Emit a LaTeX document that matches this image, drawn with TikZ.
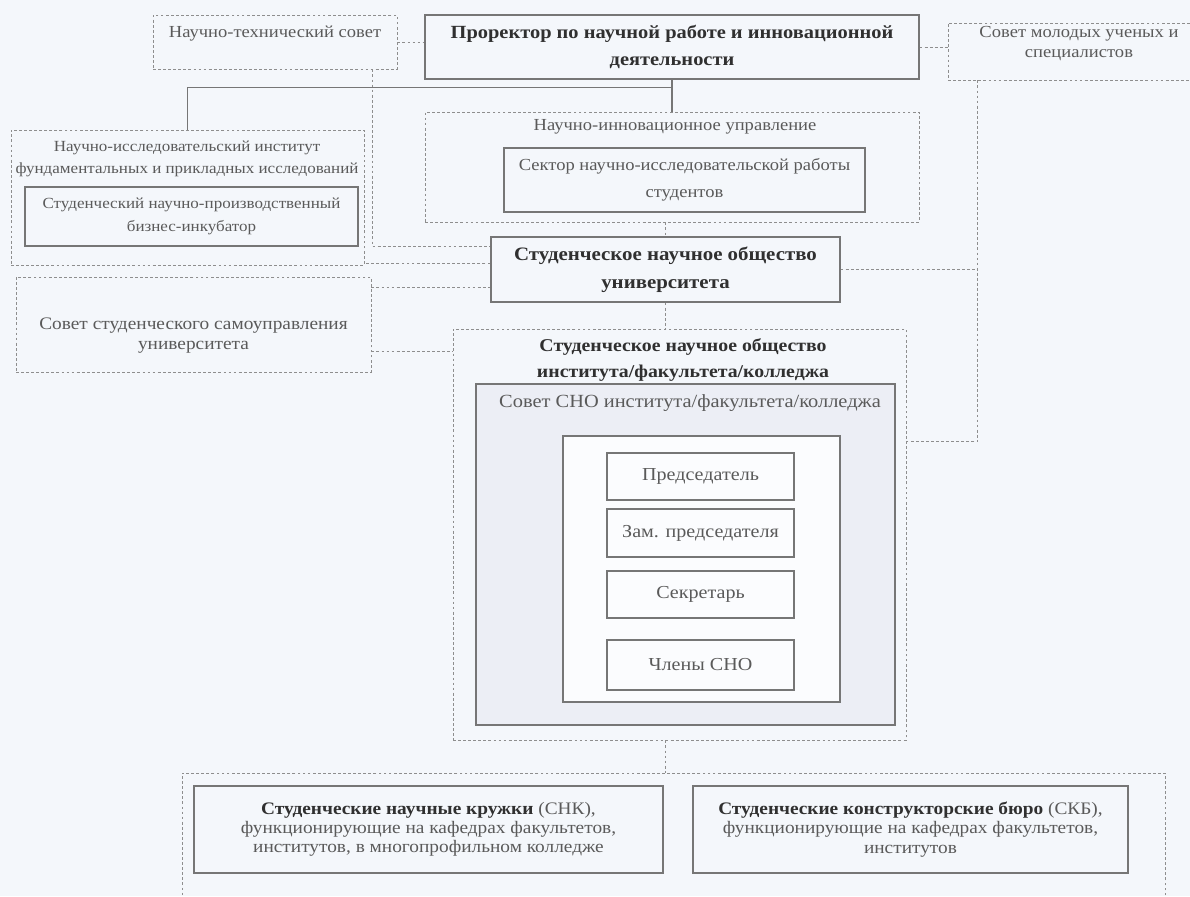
\documentclass[tikz,border=0pt]{standalone}
\usepackage{fontspec}
\setmainfont{Liberation Serif}[FakeStretch=1.1]
\usetikzlibrary{calc}

\definecolor{bgpaper}{HTML}{F4F7FB}
\definecolor{linegray}{HTML}{767676}
\definecolor{dashgray}{HTML}{8E8E8E}
\definecolor{txtgray}{HTML}{5A5A5A}
\definecolor{txtdark}{HTML}{303030}
\definecolor{councilfill}{HTML}{ECEEF5}
\definecolor{whitebox}{HTML}{FBFCFE}

\newcommand{\fs}[2]{\fontsize{#1}{#2}\selectfont}

\tikzset{
  wh/.style 2 args={minimum width=#1*0.025cm, minimum height=#2*0.025cm},
  sbox/.style={draw=linegray, line width=0.9pt, inner sep=0pt, align=center, text=txtgray},
  dbox/.style={draw=dashgray, line width=0.6pt, dash pattern=on 2pt off 1.6pt, inner sep=0pt, align=center, text=txtgray},
  dlink/.style={dashgray, line width=0.6pt, dash pattern=on 2pt off 1.6pt},
  slink/.style={linegray, line width=0.9pt},
}

\begin{document}
\begin{tikzpicture}[x=0.025cm, y=-0.025cm]
  \fill[bgpaper] (0,0) rectangle (1190,896);
  \useasboundingbox (0,0) rectangle (1190,896);

  % top row
  \node[dbox, wh={244}{54}, font=\fs{12}{14}] (ntc) at (275,42) {Научно-технический совет\\\mbox{}};
  \node[sbox, wh={494}{64}, text=txtdark, font=\bfseries\fs{13.2}{19}] (pror) at (672,47)
    {Проректор по научной работе и инновационной\\деятельности};
  \node[dbox, wh={262}{57}, font=\fs{12}{14}] (smu) at (1079,51.5)
    {Совет молодых ученых и\\специалистов\\\mbox{}};

  % institute and management
  \node[dbox, wh={353}{135}] (nii) at (187.5,197.5) {};
  \node[text=txtgray, align=center, font=\fs{11}{15.5}] (nii-t) at (187,159)
    {Научно-исследовательский институт\\фундаментальных и прикладных исследований};
  \node[sbox, wh={333}{59}, font=\fs{11}{16}] (inc) at (191.5,216.5)
    {Студенческий научно-производственный\\бизнес-инкубатор};

  \node[dbox, wh={494}{110}] (niu) at (672,167) {};
  \node[text=txtgray, font=\fs{12}{14}] (niu-t) at (675,127) {Научно-инновационное управление};
  \node[sbox, wh={361}{64}, font=\fs{12}{19}] (sect) at (684.5,180)
    {Сектор научно-исследовательской работы\\студентов};

  \node[sbox, wh={349}{65}, text=txtdark, font=\bfseries\fs{13.5}{20}] (snou) at (665.5,269.5)
    {Студенческое научное общество\\университета};
  \node[dbox, wh={355}{95}, font=\fs{12.5}{14}] (ssu) at (193.5,324.5)
    {\strut\\Совет студенческого самоуправления\\университета};

  % faculty society
  \node[dbox, wh={453}{411}] (snoi) at (679.5,534.5) {};
  \node[text=txtdark, align=center, font=\bfseries\fs{12.8}{18}] (snoi-t) at (683,360)
    {Студенческое научное общество\\института/факультета/колледжа};
  \node[sbox, fill=councilfill, wh={419}{341}] (sovet) at (685.5,554.5) {};
  \node[text=txtgray, font=\fs{13.2}{15}] (sovet-t) at (690,403) {Совет СНО института/факультета/колледжа};
  \node[sbox, fill=whitebox, wh={277}{266}] (core) at (701.5,569) {};
  \foreach \nm/\yc/\hh/\txt in {chairm/476.5/47/Председатель, deputy/533/48/Зам. председателя,
                                secr/594.5/47/Секретарь, membr/665/50/Члены СНО}
    \node[sbox, fill=whitebox, wh={187}{\hh}, font=\fs{13}{15}] (\nm) at (700.5,\yc) {\txt};

  % circles and bureaus
  \node[dbox, wh={983}{157}] (circ) at (673.5,851.5) {};
  \node[sbox, wh={469}{87}, font=\fs{12.5}{13.6}] (snk) at (428.5,829.5)
    {\textcolor{txtdark}{\bfseries Студенческие научные кружки} (СНК),\\функционирующие на кафедрах факультетов,\\институтов, в многопрофильном колледже};
  \node[sbox, wh={435}{87}, font=\fs{12.5}{13.6}] (skb) at (910.5,829.5)
    {\textcolor{txtdark}{\bfseries Студенческие конструкторские бюро} (СКБ),\\функционирующие на кафедрах факультетов,\\институтов};

  % solid links
  \coordinate (fork) at ($(pror.south)+(0,8)$);
  \draw[slink] (pror.south) -- (niu.north);
  \draw[slink] (fork) -| (nii.north);

  % dashed links
  \draw[dlink] (ntc.east) -- (ntc.east -| pror.west);
  \draw[dlink] (pror.east) -- (pror.east -| smu.west);
  \draw[dlink] ($(ntc.south east)+(-25,0)$) |- ($(snou.north west)+(0,10)$);
  \coordinate (l2) at ($(snou.west)+(0,-6)$);
  \draw[dlink] (l2) -- (l2 -| nii.east);
  \coordinate (l3) at ($(ssu.north east)+(0,11)$);
  \draw[dlink] (l3) -- (l3 -| snou.west);
  \coordinate (l4) at ($(ssu.east)+(0,27)$);
  \draw[dlink] (l4) -- (l4 -| snoi.west);
  \draw[dlink] (niu.south -| snou.south) -- (snou.north);
  \draw[dlink] (snou.south) -- (snou.south |- snoi.north);
  \draw[dlink] (snou.south |- snoi.south) -- (snou.south |- circ.north);
  \coordinate (rt) at ($(smu.south west)+(30,0)$);
  \coordinate (r2) at ($(snoi.north east)+(0,113)$);
  \draw[dlink] (rt) |- (r2);
  \draw[dlink] (snou.east) -- (snou.east -| rt);
\end{tikzpicture}
\end{document}
